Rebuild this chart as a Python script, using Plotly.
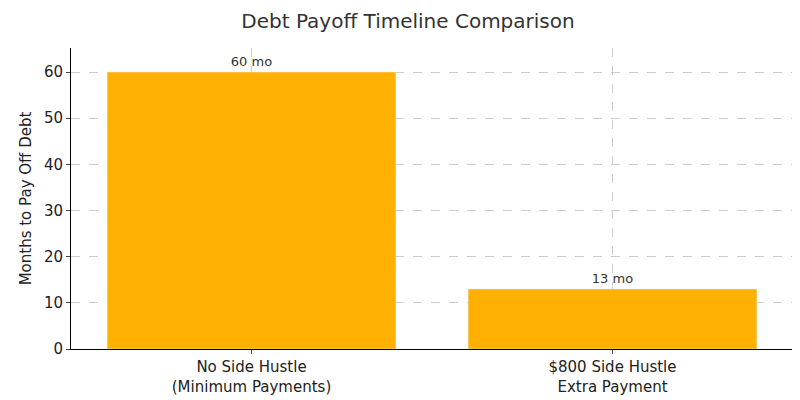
import plotly.graph_objects as go

categories = ["No Side Hustle<br>(Minimum Payments)", "$800 Side Hustle<br>Extra Payment"]
months = [60, 13]
labels = ["60 mo", "13 mo"]

fig = go.Figure(go.Bar(
    x=categories, y=months, width=0.8, marker_color="#FFB000",
    text=labels, textposition="outside", textfont=dict(size=13, color="#333333"),
    cliponaxis=False,
))
fig.update_layout(
    width=800, height=400, plot_bgcolor="white", paper_bgcolor="white",
    margin=dict(l=63, r=15, t=40, b=55),
    font=dict(family="DejaVu Sans", size=15, color="#222222"),
    title=dict(text="Debt Payoff Timeline Comparison", x=0.5, xanchor="center",
               y=0.985, yanchor="top", font=dict(size=20, color="#333333")),
    showlegend=False,
)
fig.update_xaxes(range=[-0.5, 1.5], showline=True, linecolor="black", linewidth=1,
                 showgrid=True, gridcolor="#cccccc", griddash="dash", gridwidth=0.7,
                 ticks="outside", ticklen=4, tickfont=dict(size=15))
fig.update_yaxes(range=[0, 65.2], dtick=10, showline=True, linecolor="black", linewidth=1,
                 showgrid=True, gridcolor="#cccccc", griddash="dash", gridwidth=0.7,
                 ticks="outside", ticklen=4, zeroline=False, tickfont=dict(size=15),
                 title=dict(text="Months to Pay Off Debt", font=dict(size=15), standoff=8))
fig.write_html("out.html")
